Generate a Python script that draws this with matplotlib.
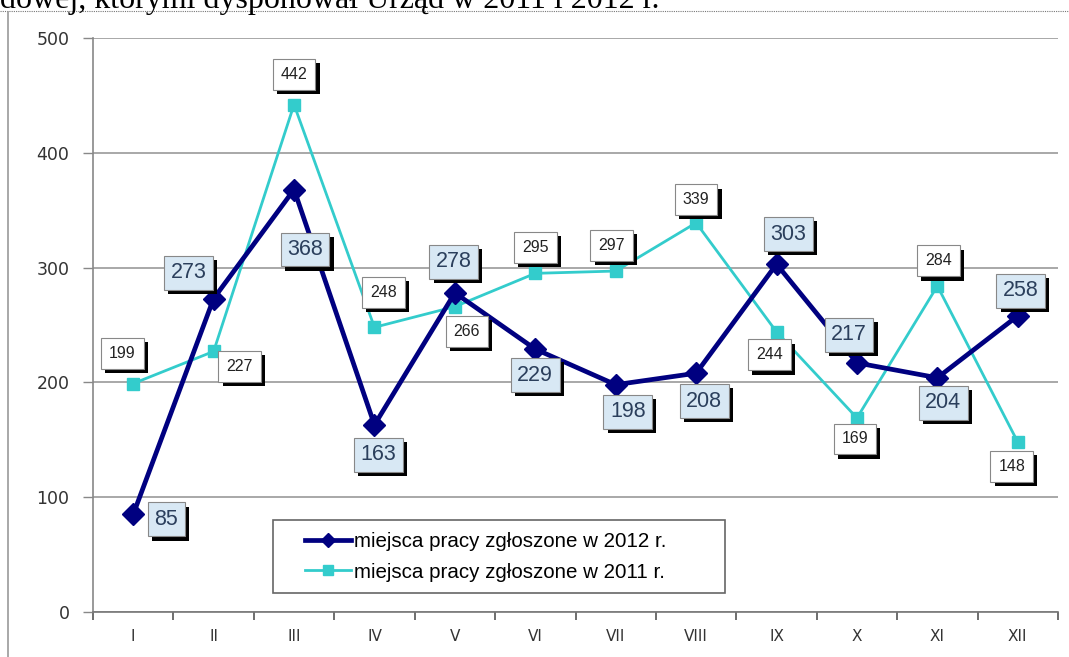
import numpy as np
from matplotlib import pyplot as plt
from matplotlib.lines import Line2D
from matplotlib.patches import Rectangle
from matplotlib import patheffects as pe

# dane: miejsca pracy zgłoszone w kolejnych miesiącach
months = ['I', 'II', 'III', 'IV', 'V', 'VI', 'VII', 'VIII', 'IX', 'X', 'XI', 'XII']
y2012 = [85, 273, 368, 163, 278, 229, 198, 208, 303, 217, 204, 258]
y2011 = [199, 227, 442, 248, 266, 295, 297, 339, 244, 169, 284, 148]

# przesunięcia etykiet (piksele)
off2012 = [(33, -5), (-25, 26), (11, -60), (4, -30), (-1, 31), (0, -26),
           (12, -27), (8, -28), (12, 30), (-8, 28), (6, -25), (3, 25)]
off2011 = [(-11, 30), (26, -15), (0, 30), (9, 35), (12, -25), (0, 26),
           (-4, 26), (0, 23), (-7, -23), (-2, -21), (1, 25), (-6, -24)]

fig = plt.figure(figsize=(10.69, 6.57), dpi=100)
W, H = 1069, 657

# ucięty tekst nad wykresem
fig.text(0, 1 - 8 / H, 'dowej, którymi dysponował Urząd w 2011 i 2012 r.',
         family='Liberation Serif', fontsize=23, va='baseline', ha='left')
fig.add_artist(Line2D([0, 1], [1 - 11 / H, 1 - 11 / H], color='#777777',
                      lw=0.8, ls=(0, (1, 1))))
fig.add_artist(Line2D([8 / W, 8 / W], [0, 1 - 12 / H], color='#999999', lw=1.2))

ax = fig.add_axes([93 / W, 45 / H, 965 / W, 574 / H])
x = np.arange(len(months))

ax.plot(x, y2012, color='#000080', lw=3.4, marker='D', ms=11.5, zorder=4,
        label='miejsca pracy zgłoszone w 2012 r.')
ax.plot(x, y2011, color='#33CCCC', lw=2, marker='s', ms=9, zorder=3,
        label='miejsca pracy zgłoszone w 2011 r.')

shadow = [pe.SimplePatchShadow(offset=(3, -3), shadow_rgbFace='black', alpha=1), pe.Normal()]


def label(xi, yi, txt, off, fc, tc, fs, pad):
    a = ax.annotate(txt, (xi, yi), xytext=off, textcoords='offset pixels',
                    ha='center', va='center', fontsize=fs, color=tc,
                    family='Liberation Sans', zorder=6,
                    bbox=dict(boxstyle='square,pad=%s' % pad, fc=fc, ec='#888888', lw=0.8))
    a.get_bbox_patch().set_path_effects(shadow)


for i in range(len(months)):
    label(x[i], y2012[i], str(y2012[i]), off2012[i], '#d8e8f4', '#2b3f5c', 15.5, 0.3)
    label(x[i], y2011[i], str(y2011[i]), off2011[i], 'white', '#222222', 11.5, 0.5)

ax.set_xlim(-0.5, 11.5)
ax.set_ylim(0, 500)
ax.set_yticks(range(0, 501, 100))
ax.yaxis.grid(True, color='#999999', lw=1.2)
ax.set_axisbelow(True)
ax.set_xticks(x)
ax.set_xticklabels(months)
ax.set_xticks(np.arange(-0.5, 12, 1), minor=True)
ax.tick_params(axis='x', which='major', length=0, pad=12, labelsize=11, labelcolor='#333333')
ax.tick_params(axis='x', which='minor', length=6, width=1.2, color='#555555', direction='out')
ax.tick_params(axis='y', length=7, width=1, color='#888888', labelsize=12.5, labelcolor='#333333', pad=10)
for s in ['top', 'right']:
    ax.spines[s].set_visible(False)
ax.spines['left'].set_color('#888888')
ax.spines['left'].set_linewidth(1.2)
ax.spines['bottom'].set_color('#777777')
ax.spines['bottom'].set_linewidth(1.2)

# legenda z ramką rysowaną osobno
leg = ax.legend(loc='center left', bbox_to_anchor=((295 - 93) / 965, (612 - 557) / 574),
                frameon=False, borderpad=0, handlelength=2.2, handletextpad=0.15,
                labelspacing=0.55, prop={'family': 'Liberation Sans', 'size': 14.8})
for h in leg.legend_handles:
    h.set_markersize(7)
ax.add_patch(Rectangle(((273 - 93) / 965, (612 - 593) / 574), 452 / 965, 73 / 574,
                       transform=ax.transAxes, fill=True, fc='white', ec='#666666',
                       lw=1.2, zorder=2))

fig.savefig('out.png', dpi=100)
